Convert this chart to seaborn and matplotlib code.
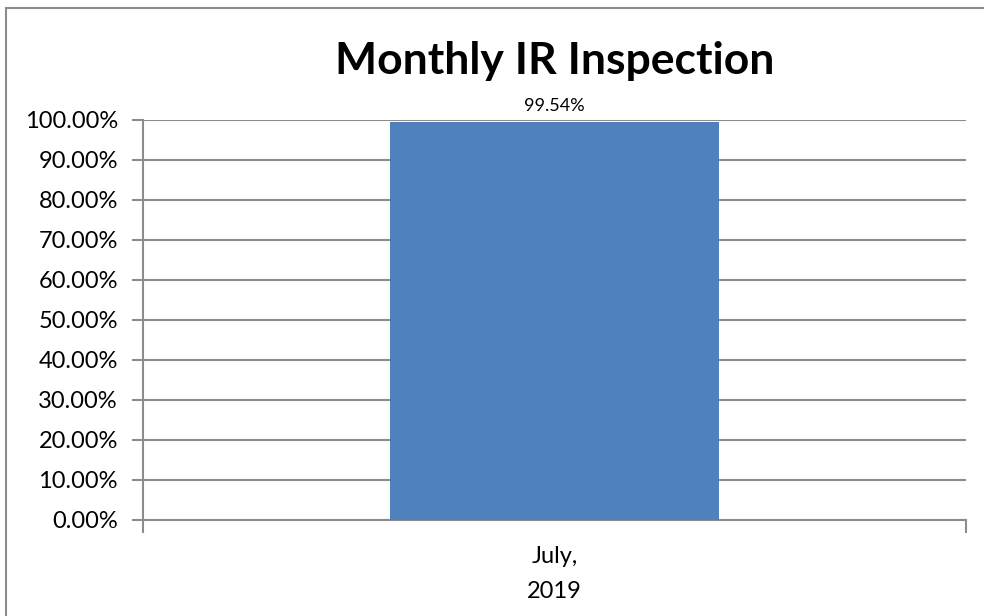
import numpy as np
import pandas as pd
import matplotlib.pyplot as plt
import seaborn as sns
from matplotlib.lines import Line2D
from matplotlib.ticker import FuncFormatter

months = ["July,\n2019"]
values = [99.54]

sns.set_theme(style="white")
plt.rcParams['font.family'] = ['Lato', 'DejaVu Sans']
plt.rcParams['text.color'] = 'black'

df = pd.DataFrame({"Month": months, "Value": values})

fig = plt.figure(figsize=(9.84, 6.16), dpi=100)
ax = fig.add_axes([143 / 984, 1 - 520 / 616, 823 / 984, 400 / 616])

sns.barplot(data=df, x="Month", y="Value", color="#4F81BD", width=0.4,
            saturation=1, linewidth=0, ax=ax, zorder=3)

ax.set_xlim(-0.5, 0.5)
ax.set_ylim(0, 100)
ax.set_yticks(np.arange(0, 101, 10))
ax.yaxis.set_major_formatter(FuncFormatter(lambda v, p: f"{v:.2f}%"))
ax.grid(axis="y", color="#8C8C8C", linewidth=1.5, zorder=0)
ax.set_xlabel("")
ax.set_ylabel("")

for s in ["top", "right"]:
    ax.spines[s].set_visible(False)
for s in ["left", "bottom"]:
    ax.spines[s].set_color("#8C8C8C")
    ax.spines[s].set_linewidth(1.5)

ax.tick_params(axis="y", which="major", direction="out", length=8, width=1.5,
               color="#8C8C8C", labelsize=17, labelcolor="black", left=True, pad=10)
ax.tick_params(axis="x", which="major", length=0, labelsize=17, labelcolor="black", pad=19)
for lbl in ax.get_xticklabels():
    lbl.set_linespacing(1.8)

# category boundary ticks, Excel style
ax.set_xticks([-0.5, 0.5], minor=True)
ax.tick_params(axis="x", which="minor", direction="out", length=9, width=1.5,
               color="#8C8C8C", bottom=True)

for c in ax.containers:
    ax.bar_label(c, labels=[f"{v:.2f}%" for v in values], fontsize=13, padding=6,
                 color="black")

ax.set_title("Monthly IR Inspection", fontsize=32, fontweight="bold", pad=33,
             color="black")

# outer chart border (only left and top edges fall inside the picture)
fig.add_artist(Line2D([6 / 984, 6 / 984], [0, 1 - 8 / 616], transform=fig.transFigure,
                      color="#8C8C8C", linewidth=1.5))
fig.add_artist(Line2D([6 / 984, 1], [1 - 8 / 616, 1 - 8 / 616], transform=fig.transFigure,
                      color="#8C8C8C", linewidth=1.5))

fig.savefig("out.png", dpi=100)
